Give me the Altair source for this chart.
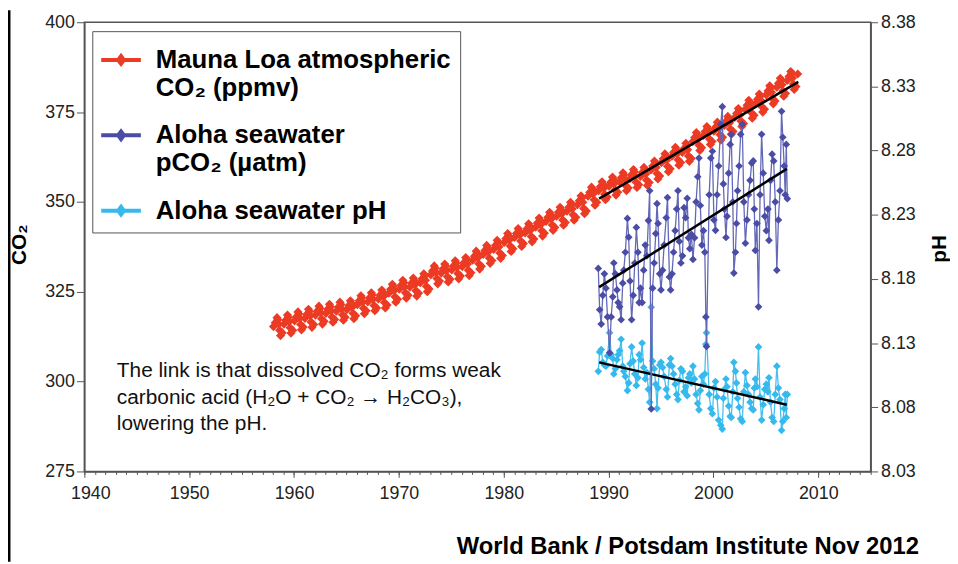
import altair as alt
import pandas as pd

FONT = "Liberation Sans"

# ---------------- data ----------------
# Mauna Loa CO2 (ppmv): eight readings per year (Jan, Mar, May, Jun, Jul, Aug, Sep, Nov)
ML_YEARS = list(range(1958, 2008))
ML_MONTHS = [1, 3, 5, 6, 7, 8, 9, 11]
ML_CO2 = [
    [315.3, 316.4, 317.8, 317.2, 316.0, 314.3, 312.8, 313.6],  # 1958
    [316.0, 317.1, 318.5, 317.9, 316.7, 315.0, 313.5, 314.3],
    [316.9, 318.0, 319.4, 318.8, 317.6, 315.9, 314.4, 315.2],
    [317.6, 318.7, 320.1, 319.5, 318.3, 316.6, 315.1, 315.9],
    [318.5, 319.6, 321.0, 320.4, 319.2, 317.5, 316.0, 316.8],
    [319.0, 320.1, 321.5, 320.9, 319.7, 318.0, 316.5, 317.3],
    [319.6, 320.7, 322.1, 321.5, 320.3, 318.6, 317.1, 317.9],
    [320.0, 321.1, 322.5, 321.9, 320.7, 319.0, 317.5, 318.3],
    [321.4, 322.5, 323.9, 323.3, 322.1, 320.4, 318.9, 319.7],
    [322.2, 323.3, 324.7, 324.1, 322.9, 321.2, 319.7, 320.5],
    [323.0, 324.1, 325.5, 324.9, 323.7, 322.0, 320.5, 321.3],  # 1968
    [324.6, 325.7, 327.1, 326.5, 325.3, 323.6, 322.1, 322.9],
    [325.7, 326.8, 328.2, 327.6, 326.4, 324.7, 323.2, 324.0],
    [326.3, 327.4, 328.8, 328.2, 327.0, 325.3, 323.8, 324.6],
    [327.5, 328.6, 330.0, 329.4, 328.2, 326.5, 325.0, 325.8],
    [329.7, 330.8, 332.2, 331.6, 330.4, 328.7, 327.2, 328.0],
    [330.2, 331.3, 332.7, 332.1, 330.9, 329.2, 327.7, 328.5],
    [331.1, 332.2, 333.6, 333.0, 331.8, 330.1, 328.6, 329.4],
    [332.0, 333.1, 334.5, 333.9, 332.7, 331.0, 329.5, 330.3],
    [333.8, 334.9, 336.3, 335.7, 334.5, 332.8, 331.3, 332.1],
    [335.4, 336.5, 337.9, 337.3, 336.1, 334.4, 332.9, 333.7],  # 1978
    [336.8, 337.9, 339.3, 338.7, 337.5, 335.8, 334.3, 335.1],
    [338.7, 339.8, 341.2, 340.6, 339.4, 337.7, 336.2, 337.0],
    [340.1, 341.2, 342.6, 342.0, 340.8, 339.1, 337.6, 338.4],
    [341.4, 342.5, 343.9, 343.3, 342.1, 340.4, 338.9, 339.7],
    [343.0, 344.1, 345.5, 344.9, 343.7, 342.0, 340.5, 341.3],
    [344.6, 345.7, 347.1, 346.5, 345.3, 343.6, 342.1, 342.9],
    [346.0, 347.1, 348.5, 347.9, 346.7, 345.0, 343.5, 344.3],
    [347.4, 348.5, 349.9, 349.3, 348.1, 346.4, 344.9, 345.7],
    [349.2, 350.3, 351.7, 351.1, 349.9, 348.2, 346.7, 347.5],
    [351.6, 352.7, 354.1, 353.5, 352.3, 350.6, 349.1, 349.9],  # 1988
    [353.1, 354.2, 355.6, 355.0, 353.8, 352.1, 350.6, 351.4],
    [354.4, 355.5, 356.9, 356.3, 355.1, 353.4, 351.9, 352.7],
    [355.6, 356.7, 358.1, 357.5, 356.3, 354.6, 353.1, 353.9],
    [356.5, 357.6, 359.0, 358.4, 357.2, 355.5, 354.0, 354.8],
    [357.1, 358.2, 359.6, 359.0, 357.8, 356.1, 354.6, 355.4],
    [358.9, 360.0, 361.4, 360.8, 359.6, 357.9, 356.4, 357.2],
    [360.9, 362.0, 363.4, 362.8, 361.6, 359.9, 358.4, 359.2],
    [362.7, 363.8, 365.2, 364.6, 363.4, 361.7, 360.2, 361.0],
    [363.8, 364.9, 366.3, 365.7, 364.5, 362.8, 361.3, 362.1],
    [366.8, 367.9, 369.3, 368.7, 367.5, 365.8, 364.3, 365.1],  # 1998
    [368.5, 369.6, 371.0, 370.4, 369.2, 367.5, 366.0, 366.8],
    [369.7, 370.8, 372.2, 371.6, 370.4, 368.7, 367.2, 368.0],
    [371.3, 372.4, 373.8, 373.2, 372.0, 370.3, 368.8, 369.6],
    [373.5, 374.6, 376.0, 375.4, 374.2, 372.5, 371.0, 371.8],
    [375.8, 376.9, 378.3, 377.7, 376.5, 374.8, 373.3, 374.1],
    [377.5, 378.6, 380.0, 379.4, 378.2, 376.5, 375.0, 375.8],
    [379.8, 380.9, 382.3, 381.7, 380.5, 378.8, 377.3, 378.1],
    [381.9, 383.0, 384.4, 383.8, 382.6, 380.9, 379.4, 380.2],
    [383.8, 384.9, 386.3, 385.7, 384.5, 382.8, 381.3, 382.1],  # 2007
]
ML_LAST = [2008, 1, 385.6]

# Station ALOHA: cruise dates (decimal years), seawater pCO2 (uatm) and pH
HOT_T = [
    1989.02, 1989.15, 1989.30, 1989.45, 1989.60, 1989.75, 1989.90,
    1990.10, 1990.25, 1990.40, 1990.50, 1990.65, 1990.80, 1990.92,
    1991.05, 1991.20, 1991.35, 1991.45, 1991.60, 1991.80, 1991.92,
    1992.05, 1992.20, 1992.35, 1992.50, 1992.65, 1992.80, 1992.92,
    1993.05, 1993.20, 1993.35, 1993.50, 1993.65, 1993.80, 1993.92,
    1994.07, 1994.20, 1994.35, 1994.50, 1994.62, 1994.72, 1994.88,
    1995.00, 1995.15, 1995.30, 1995.50, 1995.62, 1995.80, 1995.92,
    1996.05, 1996.20, 1996.35, 1996.50, 1996.62, 1996.75, 1996.90,
    1997.05, 1997.20, 1997.35, 1997.50, 1997.62, 1997.75, 1997.90,
    1998.05, 1998.20, 1998.35, 1998.50, 1998.62, 1998.75, 1998.90,
    1999.05, 1999.18, 1999.28, 1999.34, 1999.60, 1999.75, 1999.90,
    2000.05, 2000.20, 2000.35, 2000.50, 2000.70, 2000.85, 2000.95,
    2001.05, 2001.20, 2001.30, 2001.45, 2001.60, 2001.70, 2001.85, 2001.95,
    2002.10, 2002.20, 2002.30, 2002.45, 2002.60, 2002.75, 2002.90,
    2003.05, 2003.20, 2003.35, 2003.50, 2003.65, 2003.80, 2003.90,
    2004.00, 2004.15, 2004.30, 2004.45, 2004.60, 2004.75, 2004.90,
    2005.05, 2005.20, 2005.30, 2005.45, 2005.60, 2005.75, 2005.90,
    2006.05, 2006.20, 2006.35, 2006.50, 2006.62, 2006.75, 2006.85, 2006.95, 2007.05,
]
HOT_PCO2 = [
    331.5, 320.0, 316.0, 324.0, 330.0, 326.0, 318.0,
    308.0, 318.0, 323.6, 333.0, 330.0, 325.5, 322.0,
    320.8, 317.2, 327.4, 331.0, 336.0, 345.4, 340.2,
    328.0, 317.2, 324.0, 333.0, 342.9, 336.0, 322.0,
    326.0, 322.0, 331.0, 338.0, 335.0, 344.8, 353.1,
    292.4, 326.0, 333.0, 341.2, 349.5, 344.0, 330.0,
    325.5, 331.0, 338.0, 345.6, 351.2, 329.1, 325.5,
    330.0, 336.0, 342.0, 348.0, 353.1, 339.0, 333.0,
    335.0, 348.4, 345.6, 351.0, 340.0, 337.0, 341.0,
    334.0, 340.0, 350.0, 357.0, 362.2, 349.0, 338.0,
    342.0, 336.0, 318.0, 309.8, 352.0, 362.2, 364.1,
    345.0, 342.1, 352.0, 360.0, 371.6, 376.5, 355.0,
    348.0, 340.1, 346.0, 358.0, 366.0, 368.8, 350.0, 330.2,
    336.0, 344.0, 353.1, 360.0, 368.8, 371.6, 350.0,
    338.5, 345.0, 352.0, 356.0, 360.8, 361.4, 348.0,
    336.5, 344.0, 320.8, 352.0, 368.8, 358.0, 346.0,
    342.0, 348.0, 339.3, 356.0, 363.3, 361.4, 350.0,
    331.0, 345.0, 353.1, 375.2, 368.0, 360.0, 352.0, 366.0, 350.9,
]
HOT_PH = [
    8.108, 8.123, 8.125, 8.115, 8.113, 8.112, 8.120,
    8.138, 8.121, 8.118, 8.106, 8.110, 8.117, 8.121,
    8.124, 8.133, 8.112, 8.108, 8.104, 8.093, 8.099,
    8.114, 8.127, 8.116, 8.106, 8.097, 8.103, 8.121,
    8.117, 8.130, 8.111, 8.102, 8.107, 8.094, 8.084,
    8.158, 8.116, 8.110, 8.098, 8.079, 8.095, 8.113,
    8.115, 8.111, 8.104, 8.094, 8.088, 8.113, 8.118,
    8.112, 8.106, 8.098, 8.090, 8.086, 8.101, 8.110,
    8.108, 8.092, 8.096, 8.089, 8.103, 8.106, 8.099,
    8.112, 8.102, 8.090, 8.083, 8.078, 8.093, 8.104,
    8.098, 8.106, 8.129, 8.138, 8.090, 8.079, 8.075,
    8.095, 8.100, 8.088, 8.070, 8.066, 8.063, 8.087,
    8.094, 8.102, 8.096, 8.081, 8.073, 8.072, 8.092, 8.115,
    8.108, 8.099, 8.087, 8.080, 8.071, 8.069, 8.092,
    8.107, 8.097, 8.090, 8.084, 8.079, 8.078, 8.095,
    8.102, 8.096, 8.127, 8.088, 8.070, 8.082, 8.094,
    8.098, 8.092, 8.103, 8.084, 8.072, 8.069, 8.090,
    8.112, 8.095, 8.086, 8.062, 8.069, 8.079, 8.090, 8.072, 8.090,
]
assert len(HOT_T) == len(HOT_PCO2) == len(HOT_PH)

# fitted trend lines (end points)
ML_TREND_T = [1989.1, 2008.1]
ML_TREND_V = [350.9, 383.4]
PCO2_TREND_T = [1989.1, 2007.0]
PCO2_TREND_V = [326.3, 359.2]
PH_TREND_T = [1989.1, 2007.0]
PH_TREND_V = [8.115, 8.082]

SERIES = ["Mauna Loa atmospheric|CO₂ (ppmv)", "Aloha seawater|pCO₂ (µatm)", "Aloha seawater pH"]
COLORS = ["#ec3b24", "#4a4ca6", "#36b9ec"]
LINE_COLORS = ["#ec3b24", "#6468b8", "#45bfee"]

X_TICKS = [1940, 1950, 1960, 1970, 1980, 1990, 2000, 2010]
X_MINOR = list(range(1940, 2016))
CO2_TICKS = [275, 300, 325, 350, 375, 400]
PH_TICKS = [8.03, 8.08, 8.13, 8.18, 8.23, 8.28, 8.33, 8.38]

NOTE = "The link is that dissolved CO₂ forms weak\ncarbonic acid (H₂O + CO₂ →   H₂CO₃),\nlowering the pH."
NOTE_X = 1943.1
NOTE_Y = 301.3
SOURCE = "World Bank / Potsdam Institute Nov 2012"
SOURCE_X = 2019.6   # right end of the source line, in years
SOURCE_Y = 252.0    # its baseline, in CO2 units

# ---------------- tables ----------------
ml_rows = []
for yr, vals in zip(ML_YEARS, ML_CO2):
    for m, v in zip(ML_MONTHS, vals):
        ml_rows.append({"t": yr + (m - 0.5) / 12, "v": v, "s": SERIES[0]})
ml_rows.append({"t": ML_LAST[0] + (ML_LAST[1] - 0.5) / 12, "v": ML_LAST[2], "s": SERIES[0]})
ml_df = pd.DataFrame(ml_rows)

pco2_df = pd.DataFrame({"t": HOT_T, "v": HOT_PCO2, "s": SERIES[1]})
ph_df = pd.DataFrame({"t": HOT_T, "v": HOT_PH, "s": SERIES[2]})
ml_tr = pd.DataFrame({"t": ML_TREND_T, "v": ML_TREND_V})
pco2_tr = pd.DataFrame({"t": PCO2_TREND_T, "v": PCO2_TREND_V})
ph_tr = pd.DataFrame({"t": PH_TREND_T, "v": PH_TREND_V})
note_df = pd.DataFrame({"t": [NOTE_X], "v": [NOTE_Y], "txt": [NOTE]})
src_df = pd.DataFrame({"t": [SOURCE_X], "v": [SOURCE_Y], "txt": [SOURCE]})

# ---------------- scales / axes ----------------
xscale = alt.Scale(domain=[1940, 2015], nice=False, zero=False)
co2scale = alt.Scale(domain=[275, 400], nice=False, zero=False)
phscale = alt.Scale(domain=[8.03, 8.38], nice=False, zero=False)

x_major = alt.Axis(values=X_TICKS, format="d", orient="bottom", title=None, grid=False,
                   tickSize=6, tickColor="#555", domainColor="#555", domainWidth=1.5,
                   labelFont=FONT, labelFontSize=18, labelColor="#222", labelPadding=7,
                   labelFlush=True, labelFlushOffset=14)
x_minor = alt.Axis(values=X_MINOR, orient="bottom", title=None, grid=False, labels=False,
                   domain=False, tickSize=3, tickColor="#555")
y_left = alt.Axis(values=CO2_TICKS, orient="left", grid=False, tickSize=8, tickColor="#555",
                  domainColor="#555", domainWidth=1.5,
                  labelFont=FONT, labelFontSize=18, labelColor="#222", labelPadding=2,
                  title="CO₂", titleFont=FONT, titleFontSize=21, titleFontWeight="bold",
                  titleColor="black", titleAngle=270, titleX=-65, titleY=224,
                  titleBaseline="middle", titleAlign="center")
y_right = alt.Axis(values=PH_TICKS, format=".2f", orient="right", grid=False, tickSize=7,
                   tickColor="#555", domainColor="#555", domainWidth=1.5,
                   labelFont=FONT, labelFontSize=18, labelColor="#222", labelPadding=3,
                   title="pH", titleFont=FONT, titleFontSize=21, titleFontWeight="bold",
                   titleColor="black", titleAngle=270, titleX=69, titleY=228,
                   titleBaseline="middle", titleAlign="center")

LEGEND_SYMBOL = "M-1,-0.1H1V0.1H-1Z M0,-0.36L0.27,0L0,0.36L-0.27,0Z"
legend = alt.Legend(orient="none", legendX=8, legendY=9, title=None,
                    labelExpr="split(datum.label, '|')",
                    labelFont=FONT, labelFontSize=26, labelFontWeight="bold",
                    labelColor="black", labelOffset=15, labelLimit=500,
                    symbolType=LEGEND_SYMBOL, symbolSize=1600, symbolStrokeWidth=0,
                    symbolOpacity=1, rowPadding=15, padding=9,
                    strokeColor="#555", fillColor="white")
color = alt.Color("s:N", scale=alt.Scale(domain=SERIES, range=COLORS), legend=legend)


def X(axis=None):
    return alt.X("t:Q", scale=xscale, axis=axis)


def Yc(axis=None):
    return alt.Y("v:Q", scale=co2scale, axis=axis)


def Yp(axis=None):
    return alt.Y("v:Q", scale=phscale, axis=axis)


red_pts = alt.Chart(ml_df).mark_point(shape="diamond", filled=True, size=85, opacity=1).encode(
    x=X(x_major), y=Yc(y_left), color=color)

ph_line = alt.Chart(ph_df).mark_line(color=LINE_COLORS[2], strokeWidth=1.3).encode(
    x=X(x_minor), y=Yp(y_right))
ph_pts = alt.Chart(ph_df).mark_point(shape="diamond", filled=True, size=60, opacity=1).encode(
    x=X(), y=Yp(), color=color)
ph_trend = alt.Chart(ph_tr).mark_line(color="black", strokeWidth=2.5).encode(x=X(), y=Yp())

pco2_line = alt.Chart(pco2_df).mark_line(color=LINE_COLORS[1], strokeWidth=1.3).encode(
    x=X(), y=Yc())
pco2_pts = alt.Chart(pco2_df).mark_point(shape="diamond", filled=True, size=60, opacity=1).encode(
    x=X(), y=Yc(), color=color)
ml_trend = alt.Chart(ml_tr).mark_line(color="black", strokeWidth=2.5).encode(x=X(), y=Yc())
pco2_trend = alt.Chart(pco2_tr).mark_line(color="black", strokeWidth=2.5).encode(x=X(), y=Yc())

note = alt.Chart(note_df).mark_text(align="left", baseline="alphabetic", font=FONT, fontSize=21,
                                    color="#111", lineBreak="\n", lineHeight=27).encode(
    x=X(), y=Yc(), text="txt:N")
source = alt.Chart(src_df).mark_text(align="right", baseline="alphabetic", font=FONT, fontSize=24,
                                     fontWeight="bold", color="black").encode(
    x=X(), y=Yc(), text="txt:N")

border = alt.Chart(pd.DataFrame({"a": [0]})).mark_rule(color="black", strokeWidth=3).encode(
    x=alt.value(-76), y=alt.value(-12), y2=alt.value(544))

chart = alt.layer(
    red_pts, ph_line, ph_pts, ph_trend, pco2_line, pco2_pts, ml_trend, pco2_trend, note,
    source, border
).resolve_scale(
    y="independent"
).resolve_axis(
    x="independent", y="independent"
).properties(
    width=793, height=453,
    autosize=alt.AutoSizeParams(type="none"),
    padding={"left": 77, "top": 12, "right": 80, "bottom": 92},
).configure_view(stroke="#555", strokeWidth=1.5)

chart.save("out.html", embed_options={"renderer": "svg", "actions": False})
